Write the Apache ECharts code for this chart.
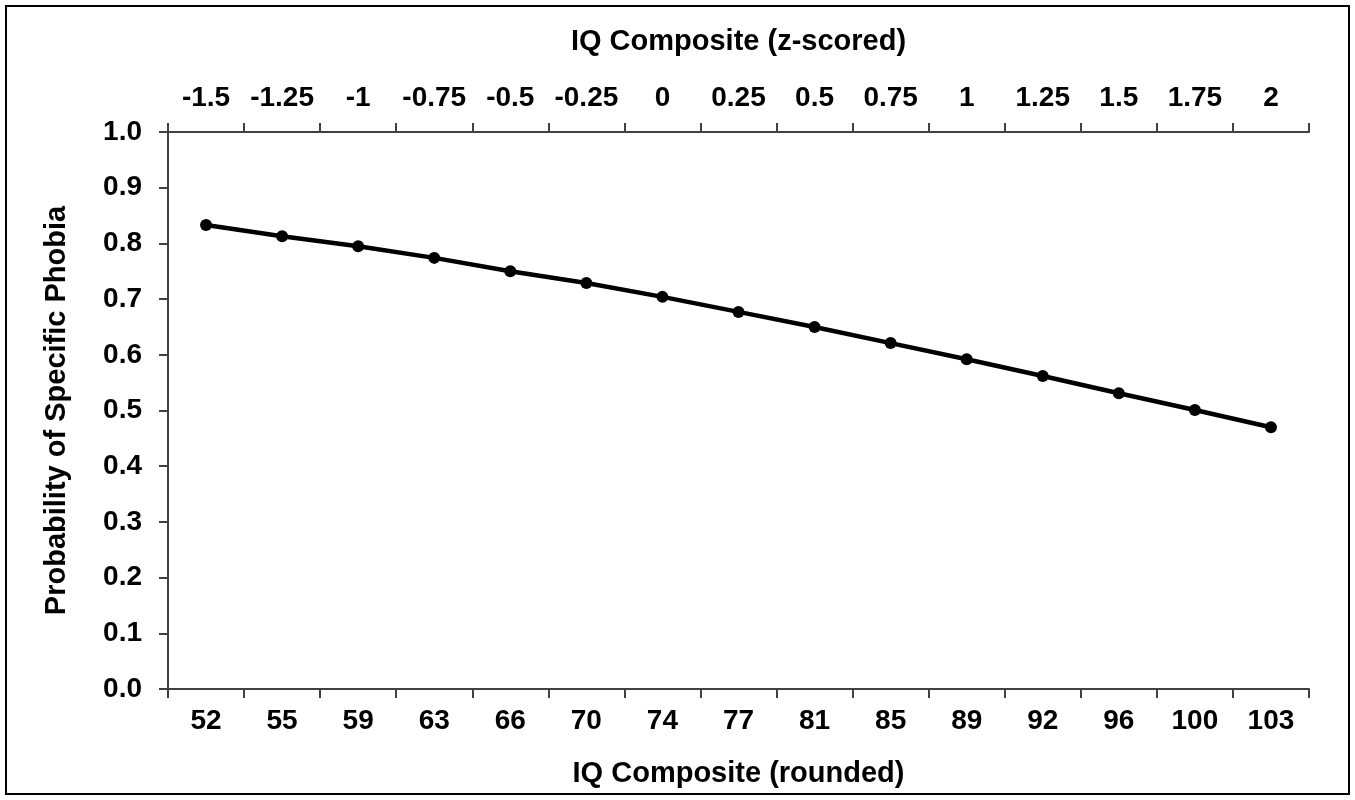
<!DOCTYPE html>
<html>
<head>
<meta charset="utf-8">
<script src="https://cdn.jsdelivr.net/npm/echarts@6/dist/echarts.min.js"></script>
<style>
  html, body { margin: 0; padding: 0; background: #fff; }
  #main { width: 1355px; height: 800px; }
</style>
</head>
<body>
<div id="main"></div>
<script>
// 数据
var iqRounded = ['52', '55', '59', '63', '66', '70', '74', '77', '81', '85', '89', '92', '96', '100', '103'];
var iqZ = ['-1.5', '-1.25', '-1', '-0.75', '-0.5', '-0.25', '0', '0.25', '0.5', '0.75', '1', '1.25', '1.5', '1.75', '2'];
var probPhobia = [0.833, 0.813, 0.795, 0.774, 0.750, 0.729, 0.704, 0.677, 0.650, 0.621, 0.592, 0.562, 0.531, 0.501, 0.470];

var font = 'Liberation Sans, Arial, sans-serif';
var axisColor = '#404040';

var myChart = echarts.init(document.getElementById('main'));

var option = {
    backgroundColor: '#fff',
    animation: false,
    graphic: [{
        type: 'rect',
        shape: { x: 6, y: 6, width: 1343, height: 788 },
        style: { fill: 'none', stroke: '#000', lineWidth: 2 }
    }],
    grid: { left: 168, right: 46, top: 132, bottom: 111 },
    xAxis: [{
        type: 'category',
        position: 'bottom',
        data: iqRounded,
        boundaryGap: true,
        name: 'IQ Composite (rounded)',
        nameLocation: 'middle',
        nameGap: 70,
        nameTextStyle: { fontFamily: font, fontWeight: 'bold', fontSize: 29, color: '#000' },
        axisLine: { show: true, lineStyle: { color: axisColor, width: 2 } },
        axisTick: { show: true, alignWithLabel: false, length: 9, lineStyle: { color: axisColor, width: 2 } },
        axisLabel: { fontFamily: font, fontWeight: 'bold', fontSize: 28, color: '#000', margin: 18, interval: 0 },
        splitLine: { show: false }
    }, {
        type: 'category',
        position: 'top',
        data: iqZ,
        boundaryGap: true,
        name: 'IQ Composite (z-scored)',
        nameLocation: 'middle',
        nameGap: 76,
        nameTextStyle: { fontFamily: font, fontWeight: 'bold', fontSize: 29, color: '#000' },
        axisLine: { show: true, lineStyle: { color: axisColor, width: 2 } },
        axisTick: { show: true, length: 9, lineStyle: { color: axisColor, width: 2 } },
        axisLabel: { fontFamily: font, fontWeight: 'bold', fontSize: 28, color: '#000', margin: 20, interval: 0 },
        splitLine: { show: false }
    }],
    yAxis: {
        type: 'value',
        min: 0,
        max: 1,
        interval: 0.1,
        name: 'Probability of Specific Phobia',
        nameLocation: 'middle',
        nameGap: 97,
        nameTextStyle: { fontFamily: font, fontWeight: 'bold', fontSize: 29, color: '#000' },
        axisLine: { show: true, lineStyle: { color: axisColor, width: 2 } },
        axisTick: { show: true, length: 9, lineStyle: { color: axisColor, width: 2 } },
        axisLabel: {
            fontFamily: font, fontWeight: 'bold', fontSize: 28, color: '#000', margin: 26,
            formatter: function (v) { return v.toFixed(1); }
        },
        splitLine: { show: false }
    },
    series: [{
        type: 'line',
        xAxisIndex: 0,
        data: probPhobia,
        symbol: 'circle',
        symbolSize: 12,
        lineStyle: { color: '#000', width: 4.5 },
        itemStyle: { color: '#000' }
    }]
};
myChart.setOption(option);
</script>
</body>
</html>
